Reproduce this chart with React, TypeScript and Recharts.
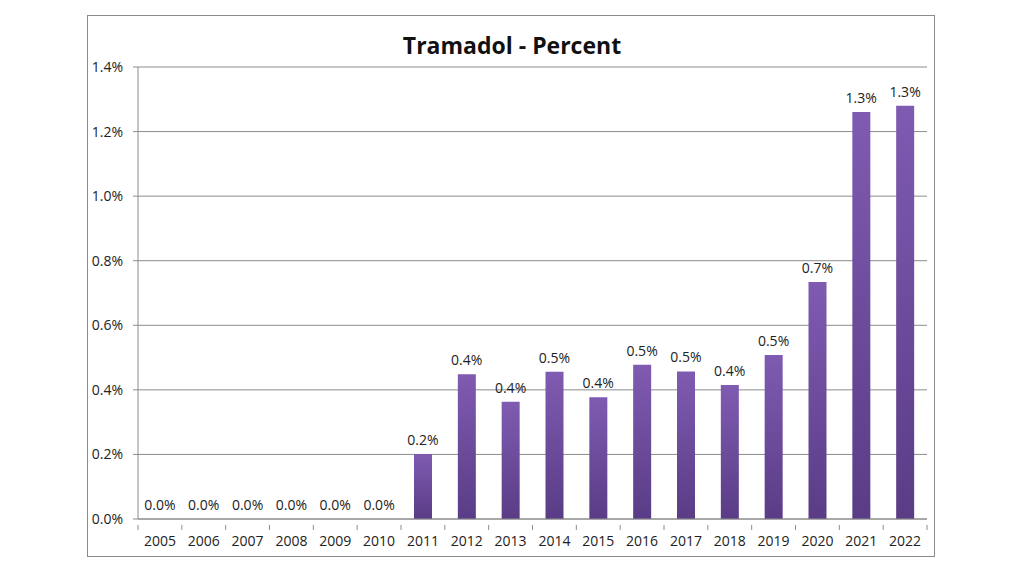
import React from "react";
import { ComposedChart, Bar, Line, XAxis, YAxis, CartesianGrid, LabelList } from "recharts";

const years = ["2005","2006","2007","2008","2009","2010","2011","2012","2013","2014","2015","2016","2017","2018","2019","2020","2021","2022"];
const percentValues = [0, 0, 0, 0, 0, 0, 0.201, 0.448, 0.363, 0.456, 0.377, 0.478, 0.457, 0.415, 0.508, 0.734, 1.261, 1.28];
const yTicks = [0, 0.2, 0.4, 0.6, 0.8, 1.0, 1.2, 1.4];

const data = years.map((y, i) => ({ year: y, value: percentValues[i] }));

const FONT = "'Open Sans', 'Liberation Sans', sans-serif";
const fmt = (v: number) => `${(Math.round(v * 10) / 10).toFixed(1)}%`;

const CHART_W = 1024;
const MARGIN = { top: 67, right: 97, bottom: 27, left: 88 };
const YAXIS_W = 50;
const PLOT_W = CHART_W - MARGIN.left - MARGIN.right - YAXIS_W;
const BAND = PLOT_W / years.length;

const XTick = (props: any) => {
  const { x, y, payload, index } = props;
  const isLast = index === years.length - 1;
  return (
    <g>
      <line x1={x - BAND / 2} x2={x - BAND / 2} y1={y - 11} y2={y - 6} stroke="#8c8c8c" />
      {isLast && <line x1={x + BAND / 2} x2={x + BAND / 2} y1={y - 11} y2={y - 6} stroke="#8c8c8c" />}
      <text x={x} y={y} dy="0.71em" textAnchor="middle" fill="#222" fontSize={14} fontFamily={FONT}>
        {payload.value}
      </text>
    </g>
  );
};

export default function App() {
  return (
    <div style={{ position: "absolute", left: 0, top: 0, width: 1024, height: 576, background: "#fff", fontFamily: FONT }}>
      <div style={{ position: "absolute", left: 87, top: 15, width: 848, height: 542, border: "1.5px solid #8a8a8a", boxSizing: "border-box" }} />
      <div style={{ position: "absolute", left: 0, top: 29, width: 1024, textAlign: "center", fontSize: 23, fontWeight: 700, color: "#111", lineHeight: "32px" }}>
        Tramadol - Percent
      </div>
      <div style={{ position: "absolute", left: 0, top: 0 }}>
        <ComposedChart width={CHART_W} height={576} data={data} margin={MARGIN}>
          <defs>
            <linearGradient id="barGrad" x1="0" y1="0" x2="0" y2="1">
              <stop offset="0%" stopColor="#7f5bb1" />
              <stop offset="100%" stopColor="#5a3c86" />
            </linearGradient>
          </defs>
          <CartesianGrid vertical={false} stroke="#8c8c8c" strokeWidth={1} yAxisId="y" xAxisId="cat" />
          <XAxis xAxisId="cat" dataKey="year" tickLine={false} axisLine={{ stroke: "#8c8c8c" }} height={30} tickMargin={11} tick={<XTick />} interval={0} />
          <YAxis yAxisId="y" domain={[0, 1.4]} ticks={yTicks} tickFormatter={(v: number) => `${v.toFixed(1)}%`} width={YAXIS_W} tickSize={5} tickMargin={10} axisLine={{ stroke: "#8c8c8c" }} tickLine={{ stroke: "#8c8c8c" }} tick={{ fill: "#222", fontSize: 14, fontFamily: FONT }} />
          <Bar xAxisId="cat" yAxisId="y" dataKey="value" fill="url(#barGrad)" barSize={18} isAnimationActive={false} />
          <Line xAxisId="cat" yAxisId="y" dataKey="value" stroke="none" dot={false} activeDot={false} isAnimationActive={false}>
            <LabelList dataKey="value" position="top" offset={9} formatter={(v: number) => fmt(v)} style={{ fill: "#222", fontSize: 14, fontFamily: FONT }} />
          </Line>
        </ComposedChart>
      </div>
    </div>
  );
}
